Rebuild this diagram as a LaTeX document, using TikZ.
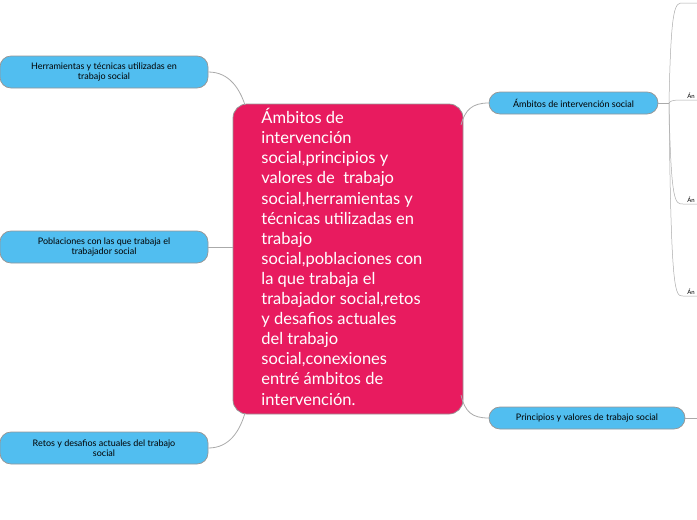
\documentclass[tikz,border=0pt]{standalone}
\usepackage{fontspec}
\setmainfont{Lato}
\tikzset{every picture/.style={line width=0.75pt}}
\tikzset{
  topic/.style={draw={rgb,255:red,150;green,150;blue,150},fill={rgb,255:red,81;green,190;blue,240},rounded corners=11pt,align=center,font=\fontsize{9}{10.5}\selectfont,inner sep=0pt},
  central/.style={draw={rgb,255:red,150;green,150;blue,150},fill={rgb,255:red,232;green,27;blue,95},rounded corners=14pt,text=white,align=left,inner sep=0pt},
  link/.style={draw={rgb,255:red,170;green,170;blue,170},line width=0.8pt},
  sub/.style={font=\fontsize{6}{7}\selectfont,anchor=south west,inner sep=1pt}
}
\begin{document}
\begin{tikzpicture}[x=1pt,y=1pt,yscale=-1]
\useasboundingbox (0,0) rectangle (697,520);
\clip (0,0) rectangle (697,520);

% central topic
\node [central,minimum width=230,minimum height=310] (main) at (348,259) {};
\node [text=white,anchor=north west,align=left,font=\fontsize{16.5}{20.1}\selectfont,inner sep=0pt] (maintext) at (261,108)
  {Ámbitos de\\intervención\\social,principios y\\valores de\ \ trabajo\\social,herramientas y\\técnicas utilizadas en\\trabajo\\social,poblaciones con\\la que trabaja el\\trabajador social,retos\\y desafios actuales\\del trabajo\\social,conexiones\\entré ámbitos de\\intervención.};

% main topics
\node [topic,minimum width=208,minimum height=32] (herr) at (104,72) {Herramientas y técnicas utilizadas en\\trabajo social};
\node [topic,minimum width=208,minimum height=32] (pobl) at (104,247) {Poblaciones con las que trabaja el\\trabajador social};
\node [topic,minimum width=208,minimum height=32] (retos) at (104,448) {Retos y desafios actuales del trabajo\\social};
\node [topic,minimum width=169,minimum height=22] (ambi) at (573.5,103) {Ámbitos de intervención social};
\node [topic,minimum width=196,minimum height=22] (prin) at (587,418) {Principios y valores de trabajo social};

% connectors
\draw [link] (herr.east) .. controls (230,72) and (240,90) .. (245,105);
\draw [link] (pobl.east) -- (main.west |- pobl.east);
\draw [link] (retos.east) .. controls (230,448) and (240,430) .. (245,413);
\draw [link] (ambi.west) .. controls (472,103) and (465,110) .. (461,125);
\draw [link] (prin.west) .. controls (472,418) and (465,412) .. (461,395);
\draw [link] (prin.east) -- (697,418);

% sub topics
\coordinate (fork) at (669,103);
\draw [link,line width=0.5pt] (ambi.east) -- (fork);
\draw [link,line width=0.5pt] (fork) .. controls (671,3) and (675,3) .. (683,3) -- (697,3);
\foreach \y/\n in {100/b,204/c,296/d}{
  \node [sub] (s\n) at (686,\y) {Án};
  \draw [link,line width=0.5pt] (fork) .. controls (671,\y) and (675,\y) .. (683,\y) -- (697,\y);
}
\end{tikzpicture}
\end{document}
